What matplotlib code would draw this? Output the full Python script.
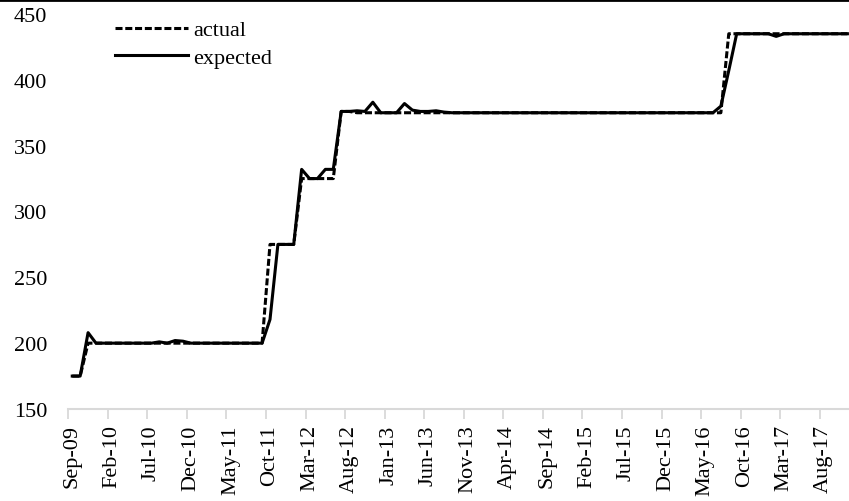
import numpy as np
import pandas as pd
import matplotlib
matplotlib.use("Agg")
import matplotlib.pyplot as plt
from matplotlib.lines import Line2D

plt.rcParams['font.family'] = ['Liberation Serif', 'DejaVu Serif']

# monthly categories, Sep-09 .. Nov-17
months = pd.date_range('2009-09-01', periods=99, freq='MS').strftime('%b-%y').tolist()

actual = ([175, 175, 200] + [200] * 22 +            # 0..24
          [275, 275, 275, 275] +                    # 25..28
          [325, 325, 325, 325, 325] +               # 29..33
          [376, 376] + [375] * 46 +                 # 34..81
          [375, 435] + [435] * 15)                  # 82..98

expected = ([175, 175, 208] + [200] * 8 + [201, 200, 202, 201.5] + [200] * 10 +   # 0..24
            [218, 275, 275, 275] +                                             # 25..28
            [332, 325, 325, 332, 332] +                                        # 29..33
            [376, 376, 376.5, 376, 383, 375, 375, 375, 382, 377, 376, 376, 376.5, 375.5] +  # 34..47
            [375] * 34 +                                                       # 48..81
            [380, 407] + [435] * 5 + [433] + [435] * 9)                         # 82..98

yticks = [150, 200, 250, 300, 350, 400, 450]

x = np.arange(len(months))

fig = plt.figure(figsize=(8.49, 5.02), dpi=100)
ax = fig.add_axes([68.3 / 849, 92 / 502, (849 - 68.3) / 849, 395 / 502])

ax.plot(x, actual, color='black', lw=2.2, dashes=(2.3, 0.9), label='actual', zorder=2)
ax.plot(x, expected, color='black', lw=2.2, label='expected', zorder=3)

ax.set_xlim(-0.5, 98.2)
ax.set_ylim(150, 450)
ax.set_yticks(yticks)
ax.tick_params(axis='y', length=0, pad=15, labelsize=16)

# tick marks between categories, labels centred on categories
ax.set_xticks(np.arange(-0.5, 98, 5))
ax.set_xticklabels([])
ax.tick_params(axis='x', which='major', length=7, width=1.3, color='#d9d9d9', direction='out')
ax.set_xticks(x[::5], minor=True)
ax.set_xticklabels(months[::5], minor=True, rotation=90, fontsize=16)
ax.tick_params(axis='x', which='minor', length=0, pad=11)

for s in ['top', 'right', 'left']:
    ax.spines[s].set_visible(False)
ax.spines['bottom'].set_color('#d9d9d9')
ax.spines['bottom'].set_linewidth(1.5)

leg = ax.legend(loc='upper left', bbox_to_anchor=(0.06, 0.985), frameon=False,
                fontsize=16, handlelength=3.3, handletextpad=0.2, labelspacing=0.3,
                borderaxespad=0, borderpad=0)

# border line across the top of the image
fig.add_artist(Line2D([0, 1], [0.998, 0.998], color='black', lw=2, transform=fig.transFigure))

fig.savefig('out.png', dpi=100)
